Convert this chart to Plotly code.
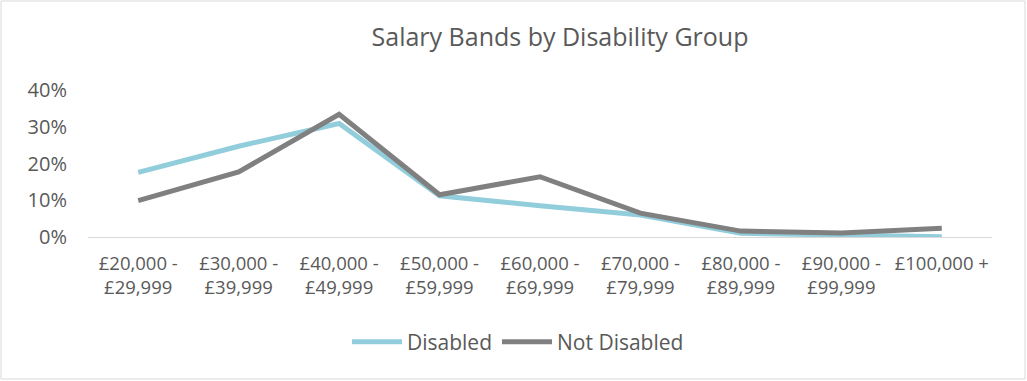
import plotly.graph_objects as go

categories = ["£20,000 -<br>£29,999", "£30,000 -<br>£39,999", "£40,000 -<br>£49,999",
              "£50,000 -<br>£59,999", "£60,000 -<br>£69,999", "£70,000 -<br>£79,999",
              "£80,000 -<br>£89,999", "£90,000 -<br>£99,999", "£100,000 +"]
disabled = [0.176, 0.247, 0.309, 0.112, 0.085, 0.060, 0.010, 0.004, 0.001]
not_disabled = [0.099, 0.177, 0.334, 0.115, 0.164, 0.065, 0.016, 0.011, 0.024]
y_ticks = [0, 0.1, 0.2, 0.3, 0.4]

W, H = 1027, 381
ml, mr, mt, mb = 88, 35, 90, 144
font = "Open Sans"
grey = "#595959"

fig = go.Figure()
fig.add_trace(go.Scatter(x=categories, y=disabled, name="Disabled", mode="lines",
                         line=dict(color="#92CDDC", width=5)))
fig.add_trace(go.Scatter(x=categories, y=not_disabled, name="Not Disabled", mode="lines",
                         line=dict(color="#808080", width=5)))

pw = W - ml - mr
ph = H - mt - mb
fig.add_shape(type="rect", xref="paper", yref="paper",
              x0=-(ml - 1) / pw, x1=1 + (mr - 2) / pw,
              y0=-(mb - 2) / ph, y1=1 + (mt - 1) / ph,
              line=dict(color="#D9D9D9", width=1), layer="below")

fig.update_layout(
    width=W, height=H,
    margin=dict(l=ml, r=mr, t=mt, b=mb),
    paper_bgcolor="white", plot_bgcolor="white",
    font=dict(family=font, color=grey, size=15),
    title=dict(text="Salary Bands by Disability Group", x=560 / W, xanchor="center",
               y=1 - 37 / H, yanchor="middle", font=dict(size=25, color=grey)),
    showlegend=True,
    legend=dict(orientation="h", x=518 / W, xanchor="center", xref="container",
                y=1 - 342 / H, yanchor="middle", yref="container",
                font=dict(size=21, color=grey), itemwidth=50),
    xaxis=dict(range=[-0.5, 8.5], showgrid=False, showline=True, linecolor="#D9D9D9",
               linewidth=1, ticks="outside", ticklen=10, tickcolor="rgba(0,0,0,0)",
               tickfont=dict(size=18.5, color=grey), fixedrange=True),
    yaxis=dict(range=[0, 0.4], tickvals=y_ticks, tickformat=".0%", showgrid=False,
               zeroline=False, showline=False, ticklabelstandoff=20,
               tickfont=dict(size=20, color=grey)),
)
fig.write_html("out.html")
